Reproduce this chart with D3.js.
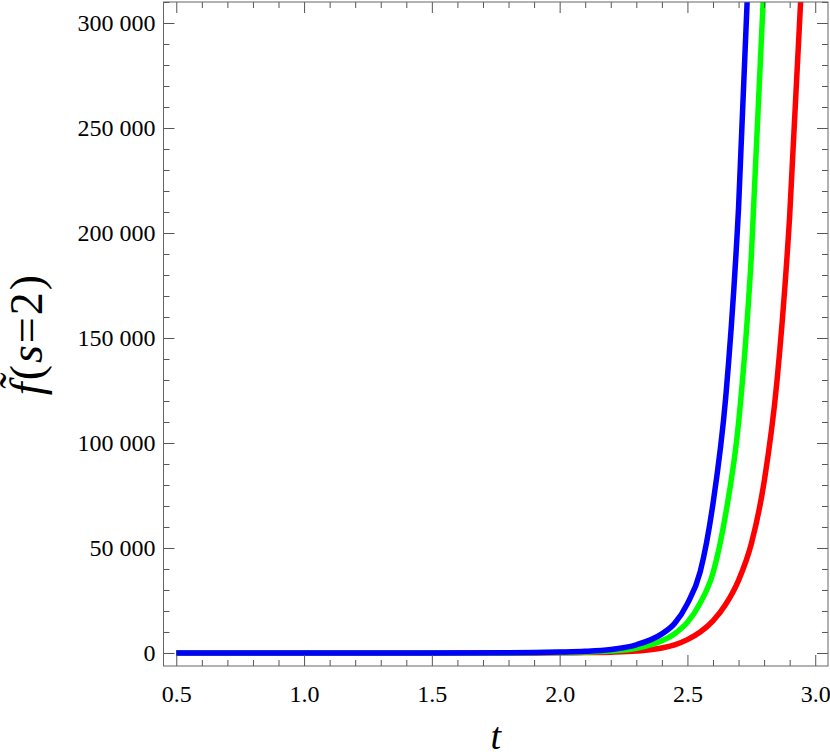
<!DOCTYPE html>
<html>
<head>
<meta charset="utf-8">
<script src="https://cdn.jsdelivr.net/npm/d3@7"></script>
<style>
    body { margin: 0; background: #fff; }
    svg { display: block; }
</style>
</head>
<body>
<div id="content"></div>
<script>
// sample points (null = beyond the top of the plot)
const tValues = [0.5, 1.0, 1.5, 1.8, 2.0, 2.1, 2.2, 2.3, 2.4, 2.45, 2.5, 2.55, 2.6, 2.65, 2.7, 2.75, 2.8, 2.85, 2.9, 2.95];
const redValues = [0, 0, 0, 20, 100, 200, 400, 920, 2380, 3900, 6360, 9950, 15300, 23200, 34600, 52000, 81400, 129000, 208000, 327000];
const greenValues = [0, 0, 0, 50, 250, 420, 890, 2200, 5840, 9200, 14600, 23800, 38100, 66400, 109500, 189000, 320000, null, null, null];
const blueValues = [0, 0, 0, 100, 430, 800, 1700, 3900, 9100, 14100, 23500, 38700, 71100, 122000, 212000, 358000, null, null, null, null];

const xMajor = [0.5, 1.0, 1.5, 2.0, 2.5, 3.0];
const yMajor = [0, 50000, 100000, 150000, 200000, 250000, 300000];

const series = [
    { name: "red", color: "#ff0000", values: redValues },
    { name: "green", color: "#00ff00", values: greenValues },
    { name: "blue", color: "#0000ff", values: blueValues }
];

const width = 830, height = 756;
const plotLeft = 163.5, plotRight = 828, plotTop = 2, plotBottom = 666;
const serif = "'Liberation Serif'";

var svg = d3.select("#content")
    .append("svg")
    .attr("width", width)
    .attr("height", height);

const x = d3.scaleLinear().domain([0.45, 3.05]).range([plotLeft, plotRight]);
const y = d3.scaleLinear().domain([-6200, 310000]).range([plotBottom, plotTop]);

const xMinor = d3.range(0.5, 3.0001, 0.1).filter(v => !xMajor.some(m => Math.abs(m - v) < 1e-6));
const yMinor = d3.range(0, 310001, 10000).filter(v => v % 50000 !== 0);

svg.append("defs").append("clipPath").attr("id", "plotclip")
    .append("rect")
    .attr("x", plotLeft).attr("y", plotTop)
    .attr("width", plotRight - plotLeft).attr("height", plotBottom - plotTop);

// curves
const line = d3.line()
    .defined(function (d) { return d[1] !== null; })
    .x(function (d) { return x(d[0]); })
    .y(function (d) { return y(d[1]); })
    .curve(d3.curveMonotoneX);

svg.append("g")
    .attr("clip-path", "url(#plotclip)")
    .selectAll("path")
    .data(series)
    .enter()
    .append("path")
    .attr("fill", "none")
    .attr("stroke", function (d) { return d.color; })
    .attr("stroke-width", 5.5)
    .attr("d", function (d) { return line(tValues.map((t, i) => [t, d.values[i]])); });

// frame with inward ticks on all sides
function styleAxis(g) {
    g.select(".domain").remove();
    g.selectAll(".tick line").attr("stroke", "#555").attr("stroke-width", 1);
    g.selectAll(".tick text")
        .style("font-family", serif)
        .style("font-size", "24px")
        .attr("fill", "#000");
}

const fmt = function (v) { return d3.format(",")(v).replace(/,/g, " "); };

// bottom
svg.append("g").attr("transform", "translate(0," + plotBottom + ")")
    .call(d3.axisBottom(x).tickValues(xMinor).tickSize(-6).tickFormat(""))
    .call(styleAxis);
svg.append("g").attr("transform", "translate(0," + plotBottom + ")")
    .call(d3.axisBottom(x).tickValues(xMajor).tickSize(-11).tickPadding(19).tickFormat(d3.format(".1f")))
    .call(styleAxis);
// top
svg.append("g").attr("transform", "translate(0," + plotTop + ")")
    .call(d3.axisTop(x).tickValues(xMinor).tickSize(-6).tickFormat(""))
    .call(styleAxis);
svg.append("g").attr("transform", "translate(0," + plotTop + ")")
    .call(d3.axisTop(x).tickValues(xMajor).tickSize(-11).tickFormat(""))
    .call(styleAxis);
// left
svg.append("g").attr("transform", "translate(" + plotLeft + ",0)")
    .call(d3.axisLeft(y).tickValues(yMinor).tickSize(-6).tickFormat(""))
    .call(styleAxis);
svg.append("g").attr("transform", "translate(" + plotLeft + ",0)")
    .call(d3.axisLeft(y).tickValues(yMajor).tickSize(-11).tickPadding(8).tickFormat(fmt))
    .call(styleAxis);
// right
svg.append("g").attr("transform", "translate(" + plotRight + ",0)")
    .call(d3.axisRight(y).tickValues(yMinor).tickSize(-6).tickFormat(""))
    .call(styleAxis);
svg.append("g").attr("transform", "translate(" + plotRight + ",0)")
    .call(d3.axisRight(y).tickValues(yMajor).tickSize(-11).tickFormat(""))
    .call(styleAxis);

svg.append("rect")
    .attr("x", plotLeft).attr("y", plotTop)
    .attr("width", plotRight - plotLeft).attr("height", plotBottom - plotTop)
    .attr("fill", "none")
    .attr("stroke", "#666")
    .attr("stroke-width", 1);

// axis titles
svg.append("text")
    .attr("x", (plotLeft + plotRight) / 2)
    .attr("y", 749)
    .attr("text-anchor", "middle")
    .style("font-family", serif)
    .style("font-style", "italic")
    .style("font-size", "38px")
    .text("t");

var ylab = svg.append("text")
    .attr("transform", "translate(42,334) rotate(-90)")
    .attr("text-anchor", "middle")
    .style("font-family", serif)
    .style("font-size", "46px")
    .style("letter-spacing", "2px");
ylab.append("tspan").style("font-style", "italic").text("f\u0303");
ylab.append("tspan").text("(");
ylab.append("tspan").style("font-style", "italic").text("s");
ylab.append("tspan").text("=2)");
</script>
</body>
</html>
